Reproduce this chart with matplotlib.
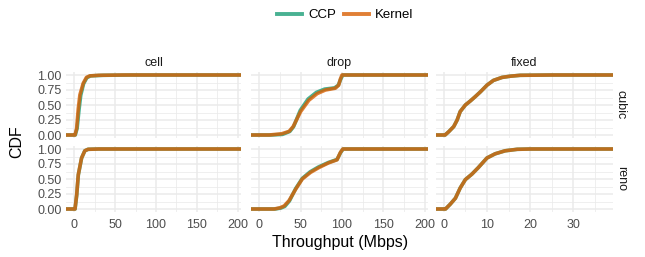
import matplotlib
matplotlib.use("Agg")
import matplotlib.pyplot as plt
import numpy as np

plt.rcParams['font.family'] = ['Liberation Sans', 'DejaVu Sans']

# facets
cols = ['cell', 'drop', 'fixed']
rows = ['cubic', 'reno']
series = ['CCP', 'Kernel']

# CDF points (throughput Mbps, cdf)
cell_cubic_ccp_x = [0, 1.3, 3.6, 6, 8, 11.5, 15.5, 20, 35, 70]
cell_cubic_ccp_y = [0, 0, 0.11, 0.43, 0.66, 0.855, 0.955, 0.985, 0.995, 1.0]
cell_cubic_kernel_x = [0, 1, 3, 5, 7, 11, 15, 19, 30, 60]
cell_cubic_kernel_y = [0, 0, 0.11, 0.44, 0.67, 0.86, 0.96, 0.985, 0.995, 1.0]

cell_reno_ccp_x = [0, 1.1, 3.1, 5.1, 9.1, 13, 17, 30]
cell_reno_ccp_y = [0, 0, 0.23, 0.57, 0.85, 0.97, 0.995, 1.0]
cell_reno_kernel_x = [0, 1, 3, 5, 9, 13, 17, 30]
cell_reno_kernel_y = [0, 0, 0.23, 0.57, 0.85, 0.97, 0.995, 1.0]

drop_cubic_ccp_x = [0, 14, 28, 37, 41.5, 49.5, 59, 69, 79, 91, 95.5, 98.5, 101]
drop_cubic_ccp_y = [0, 0, 0.01, 0.06, 0.14, 0.41, 0.6, 0.71, 0.765, 0.785, 0.83, 0.93, 1.0]
drop_cubic_kernel_x = [0, 12, 27, 36, 41, 50, 60, 70, 80, 92, 96, 98, 100]
drop_cubic_kernel_y = [0, 0, 0.02, 0.06, 0.14, 0.39, 0.58, 0.69, 0.75, 0.78, 0.83, 0.93, 1.0]

drop_reno_ccp_x = [0, 19, 26, 31, 36.5, 44, 52, 61.5, 71.5, 83.5, 94, 98.5, 101.5]
drop_reno_ccp_y = [0, 0, 0.015, 0.045, 0.135, 0.34, 0.51, 0.62, 0.7, 0.775, 0.825, 0.945, 1.0]
drop_reno_kernel_x = [0, 18, 25, 30, 36, 44, 52, 62, 72, 84, 94, 98, 101]
drop_reno_kernel_y = [0, 0, 0.02, 0.05, 0.14, 0.33, 0.5, 0.61, 0.69, 0.77, 0.82, 0.94, 1.0]

fixed_cubic_x = [0, 0.3, 1.15, 2.3, 3.1, 3.8, 5, 6.2, 7.3, 8.5, 10, 11.5, 13.5, 15.4, 17.7, 25, 37.5]
fixed_cubic_y = [0, 0, 0.055, 0.14, 0.25, 0.39, 0.5, 0.57, 0.64, 0.72, 0.83, 0.91, 0.96, 0.98, 0.995, 1, 1]
fixed_reno_x = [0, 0.4, 1.5, 2.7, 3.8, 5, 6.5, 8, 10, 11.9, 14.2, 17, 20, 37.5]
fixed_reno_y = [0, 0, 0.08, 0.18, 0.35, 0.49, 0.58, 0.69, 0.85, 0.92, 0.97, 0.995, 1, 1]

data = {
    ('cubic', 'cell'): [(cell_cubic_ccp_x, cell_cubic_ccp_y), (cell_cubic_kernel_x, cell_cubic_kernel_y)],
    ('reno', 'cell'): [(cell_reno_ccp_x, cell_reno_ccp_y), (cell_reno_kernel_x, cell_reno_kernel_y)],
    ('cubic', 'drop'): [(drop_cubic_ccp_x, drop_cubic_ccp_y), (drop_cubic_kernel_x, drop_cubic_kernel_y)],
    ('reno', 'drop'): [(drop_reno_ccp_x, drop_reno_ccp_y), (drop_reno_kernel_x, drop_reno_kernel_y)],
    ('cubic', 'fixed'): [(fixed_cubic_x, fixed_cubic_y), (fixed_cubic_x, fixed_cubic_y)],
    ('reno', 'fixed'): [(fixed_reno_x, fixed_reno_y), (fixed_reno_x, fixed_reno_y)],
}

colors = ['#1b9e77', '#d95f02']
xlims = {'cell': (-10, 204), 'drop': (-10, 204), 'fixed': (-1.8, 39.2)}
xmajor = {'cell': [0, 50, 100, 150, 200], 'drop': [0, 50, 100, 150, 200], 'fixed': [0, 10, 20, 30]}
xminor = {'cell': [25, 75, 125, 175], 'drop': [25, 75, 125, 175], 'fixed': [5, 15, 25, 35]}

W, H = 645, 257
fig = plt.figure(figsize=(W / 100, H / 100), dpi=100)

col_px = {'cell': (66, 241), 'drop': (251, 428), 'fixed': (436, 613)}
row_px = {'cubic': (72, 138), 'reno': (146, 212)}

grid_c = '#EBEBEB'
txt_c = '#4D4D4D'
fs = 9

for r in rows:
    for c in cols:
        x0, x1 = col_px[c]
        y0, y1 = row_px[r]
        ax = fig.add_axes([x0 / W, 1 - y1 / H, (x1 - x0) / W, (y1 - y0) / H])
        ax.set_xlim(*xlims[c])
        ax.set_ylim(-0.05, 1.05)
        for s in ax.spines.values():
            s.set_visible(False)
        ax.set_xticks(xmajor[c])
        ax.set_xticks(xminor[c], minor=True)
        ax.set_yticks([0, 0.25, 0.5, 0.75, 1.0])
        ax.set_yticks([0.125, 0.375, 0.625, 0.875], minor=True)
        ax.grid(True, which='major', color=grid_c, lw=1.1)
        ax.grid(True, which='minor', color=grid_c, lw=0.55)
        ax.set_axisbelow(True)
        ax.tick_params(which='both', length=0, labelsize=fs, labelcolor=txt_c, pad=3)
        ax.tick_params(axis='x', pad=5)
        if c == 'cell':
            ax.set_yticklabels(['0.00', '0.25', '0.50', '0.75', '1.00'])
        else:
            ax.set_yticklabels([])
        if r == 'cubic':
            ax.set_xticklabels([])
            ax.set_title(c, fontsize=fs, color='#1A1A1A', pad=4)
        lo, hi = xlims[c]
        for (xs, ys), col, name in zip(data[(r, c)], colors, series):
            xs = [lo] + list(xs) + [hi]
            ys = [0] + list(ys) + [1]
            ax.plot(xs, ys, color=col, lw=2.6, alpha=0.8, label=name, solid_capstyle='butt')
        if c == 'fixed':
            ax.text(1.045, 0.5, r, transform=ax.transAxes, rotation=-90,
                    ha='center', va='center', fontsize=fs, color='#1A1A1A')

fig.text(340 / W, 1 - 243 / H, 'Throughput (Mbps)', ha='center', va='center', fontsize=11.5)
fig.text(17 / W, 1 - 142 / H, 'CDF', ha='center', va='center', rotation=90, fontsize=11.5)

handles = [plt.Line2D([], [], color=col, lw=2.8, alpha=0.8) for col in colors]
fig.legend(handles, series, loc='center', bbox_to_anchor=(345 / W, 1 - 15 / H), ncol=2,
           frameon=False, fontsize=9.5, handlelength=1.9, handletextpad=0.45, columnspacing=0.6)

fig.savefig('out.png', dpi=100)
